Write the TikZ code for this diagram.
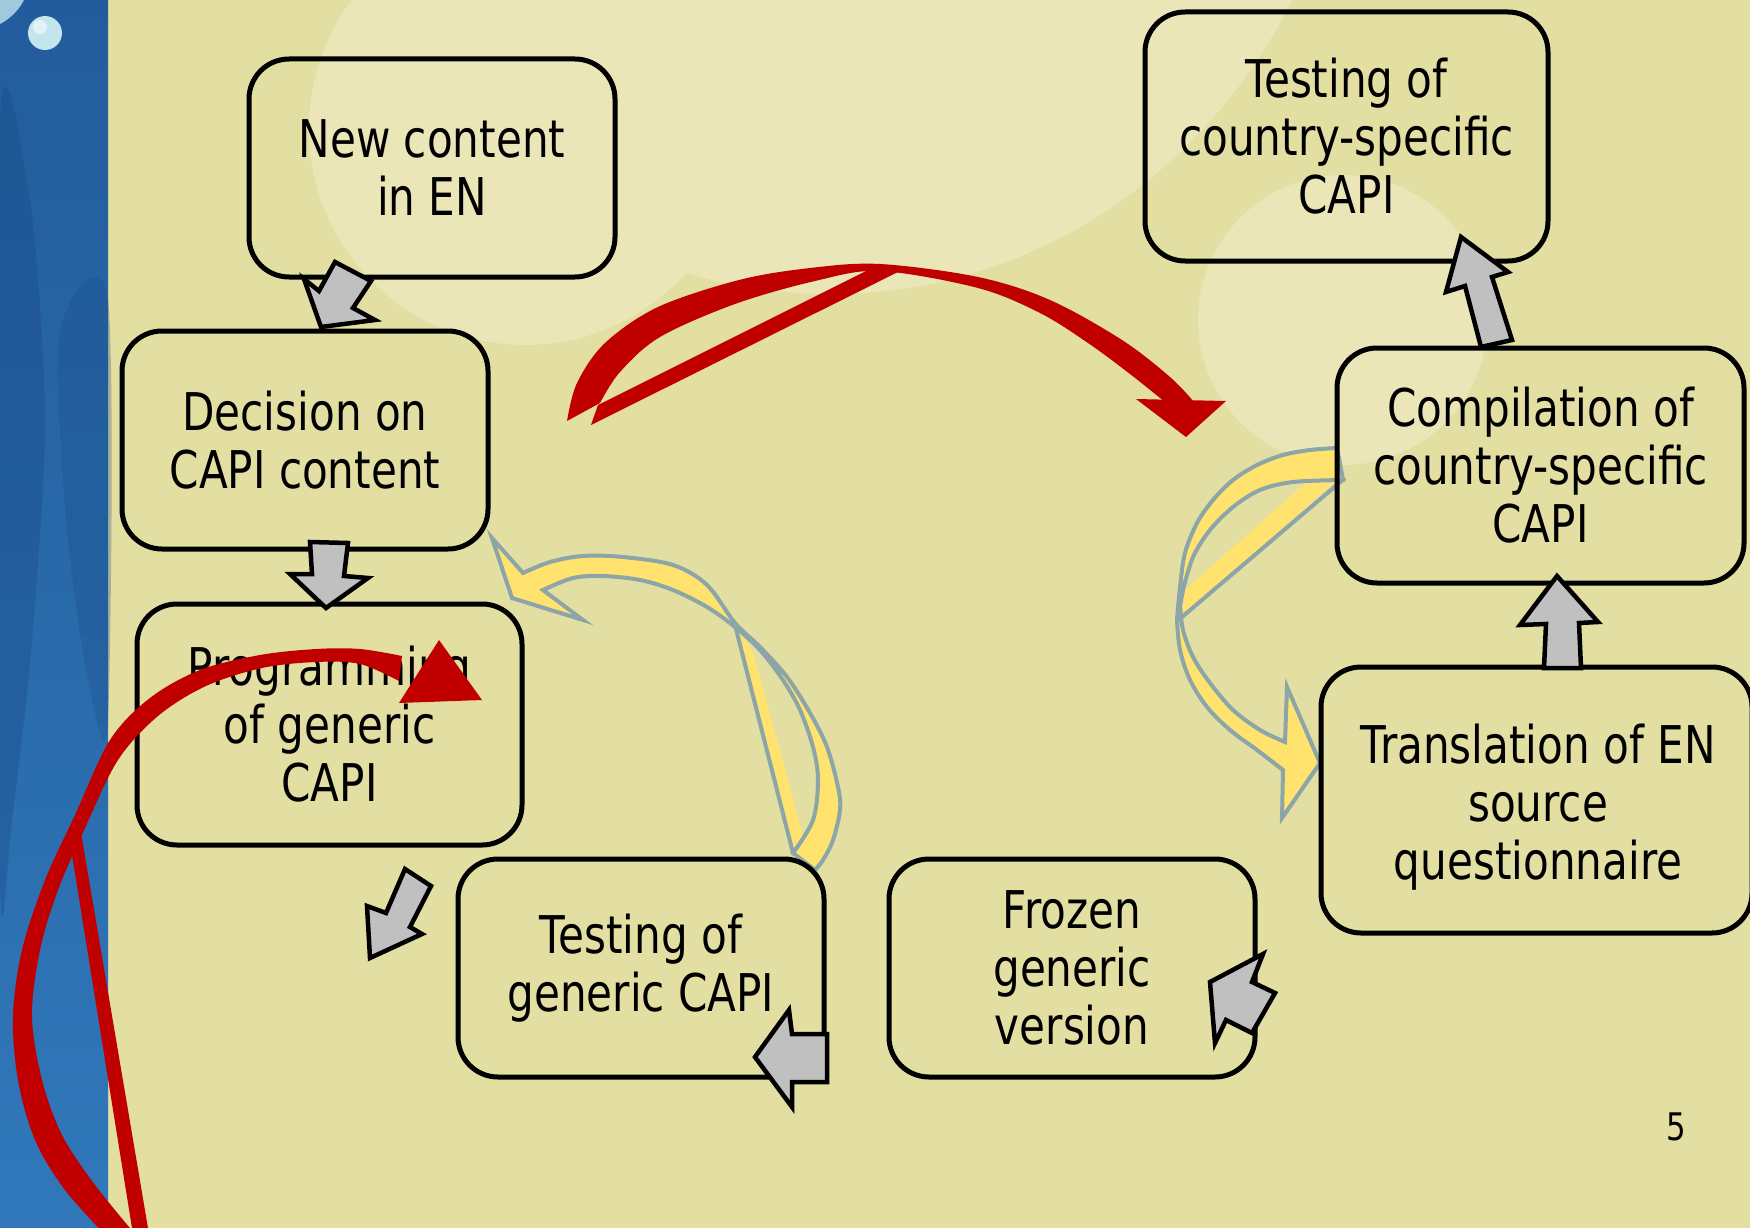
\documentclass[tikz,border=0pt]{standalone}
\usepackage{fontspec}
\setmainfont{DejaVu Sans}[FakeStretch=0.81]
\definecolor{bgc}{RGB}{227,222,161}
\definecolor{lightc}{RGB}{234,230,184}
\definecolor{redc}{RGB}{192,0,0}
\definecolor{yelc}{RGB}{255,227,110}
\definecolor{ystroke}{RGB}{139,165,168}
\definecolor{blkfill}{RGB}{192,192,192}
\definecolor{bluec}{RGB}{48,120,186}
\definecolor{bluetop}{RGB}{34,92,156}
\definecolor{bluedark}{RGB}{26,76,136}
\definecolor{bubblec}{RGB}{196,228,238}
\definecolor{bubble2}{RGB}{160,200,222}
\begin{document}
\begin{tikzpicture}[x=1pt,y=-1pt,
  box/.style={draw=black,line width=5pt,rounded corners=40pt,align=center,inner sep=0pt,font=\fontsize{52}{58}\selectfont},
  boxtext/.style={align=center,inner sep=0pt,font=\fontsize{52}{58}\selectfont},
  blk/.style={fill=blkfill,draw=black,line width=4.5pt,line join=miter},
  yel/.style={fill=yelc,draw=ystroke,line width=4pt,line join=miter},
  chord/.style={draw=ystroke,line width=4pt}]
\useasboundingbox (0,0) rectangle (1750,1228);
% background
\fill[bgc] (0,0) rectangle (1750,1228);
\fill[lightc] (525,129) circle [radius=216];
\fill[lightc] (830,-250) ellipse [x radius=520, y radius=544];
\fill[lightc] (1343,320) circle [radius=145];
% blue strip
\shade[top color=bluetop, bottom color=bluec] (0,0) rectangle (108,1228);
\fill[bluedark,opacity=0.4] plot[smooth cycle] coordinates {(0,120) (30,200) (45,420) (32,640) (12,820) (0,880)};
\fill[bluedark,opacity=0.3] plot[smooth cycle] coordinates {(60,330) (108,300) (108,720) (88,680) (66,520)};
\fill[bubble2] (-25,-25) circle [radius=55];
\fill[bubblec] (45,33) circle [radius=17];
\fill[white,opacity=0.55] (40,27) circle [radius=7];

% yellow arrow (left)
\fill[yelc] (735,625) -- (753,652) -- (812,868) -- (795,855) -- cycle;
\draw[chord] (735,625) -- (793,853);
\path[yel] (492,538) -- (523,573)
  -- plot[smooth,tension=0.55] coordinates {(523,573) (550,562) (583,556) (623,557) (673,565) (707,585) (735,623) (760,647) (787,677) (810,713) (827,747) (838,787) (840,810) (833,840) (823,860) (815,870)}
  -- plot[smooth,tension=0.55] coordinates {(793,853) (813,820) (818,780) (813,747) (800,710) (783,680) (760,650) (735,627) (707,607) (673,590) (640,580) (603,576) (573,578) (543,590)}
  -- (583,620) -- (512,598) -- cycle;

% yellow arrow (right)
\fill[yelc] (1337,455) -- (1337,480) -- (1182,617) -- (1185,590) -- cycle;
\draw[chord] (1345,478) -- (1182,617);
\path[yel] plot[smooth,tension=0.55] coordinates {(1337,448) (1310,450) (1283,455) (1257,465) (1233,480) (1213,500) (1197,523) (1185,553) (1180,587) (1177,620)}
  -- plot[smooth,tension=0.55] coordinates {(1183,590) (1193,557) (1210,530) (1233,507) (1260,490) (1293,482) (1343,480)} -- cycle;
\path[yel] plot[smooth,tension=0.55] coordinates {(1177,620) (1180,650) (1190,680) (1207,707) (1230,730) (1257,750) (1283,770)}
  -- (1282,818) -- (1320,763) -- (1287,687) -- (1285,742)
  -- plot[smooth,tension=0.55] coordinates {(1285,742) (1260,730) (1233,710) (1210,683) (1193,657) (1183,630) (1180,605)} -- cycle;

% boxes
\node[box,minimum width=366,minimum height=218] (nc) at (432,168) {New content\\in EN};
\node[box,minimum width=366,minimum height=218] (dec) at (305,440) {Decision on\\CAPI content};
\node[box,minimum width=385,minimum height=241] (prog) at (329.5,724.5) {Programming\\of generic\\CAPI};
\node[box,minimum width=366,minimum height=218] (tgen) at (641,968) {Testing of\\generic CAPI};
\node[box,minimum width=366,minimum height=218] (froz) at (1072,968) {Frozen\\generic\\version};
\node[box,minimum width=431,minimum height=266] (trans) at (1536.5,800) {};
\node[boxtext] (transtext) at (1538,807) {Translation of EN\\source\\questionnaire};
\node[box,minimum width=407,minimum height=235] (comp) at (1540.5,465.5) {Compilation of\\country-specific\\CAPI};
\node[box,minimum width=403,minimum height=249] (tcs) at (1346.5,136.5) {Testing of\\country-specific\\CAPI};

% grey block arrows
\path[blk] (335,262) -- (371,281) -- (353,308) -- (375,320) -- (321,327) -- (304,279) -- (319,291) -- cycle;
\path[blk] (310,542) -- (348,543) -- (344,576) -- (368,578) -- (326,608) -- (290,574) -- (312,574) -- cycle;
\path[blk] (405,869) -- (431,886) -- (410,927) -- (422,934) -- (370,958) -- (367,906) -- (386,913) -- cycle;
\path[blk] (827,1034) -- (827,1082) -- (792,1082) -- (792,1107) -- (755,1057) -- (789,1010) -- (792,1034) -- cycle;
\path[blk] (1275,993) -- (1252,1033) -- (1226,1020) -- (1215,1043) -- (1210,982) -- (1263,954) -- (1252,982) -- cycle;
\path[blk] (1544,668) -- (1581,668) -- (1579,623) -- (1598,622) -- (1557,576) -- (1520,625) -- (1546,624) -- cycle;
\path[blk] (1481,347) -- (1512,340) -- (1492,277) -- (1508,272) -- (1461,237) -- (1446,292) -- (1465,286) -- cycle;

% red arrow (top)
\fill[redc] plot[smooth,tension=0.55] coordinates {(567,421) (577,383) (605,343) (658,307) (739,280) (810,268) (880,264) (978,277) (1050,300) (1122,340) (1170,377) (1194,402)}
  -- plot[smooth,tension=0.55] coordinates {(1165,402) (1130,374) (1088,343) (1040,313) (978,288) (880,271) (815,281) (735,304) (660,337) (620,372) (600,403)} -- cycle;
\fill[redc] (598,405) -- (868,270) -- (900,271) -- (591,425) -- cycle;
\fill[redc] (1136,399) -- (1226,401) -- (1186,437) -- cycle;

% red arrow (left)
\fill[redc] plot[smooth,tension=0.55] coordinates {(402,656) (360,649) (316,649) (260,655) (200,670) (150,698) (110,740) (75,815) (45,880) (22,950) (13,1016) (18,1080) (35,1140) (65,1190) (110,1240)}
  -- plot[smooth,tension=0.55] coordinates {(140,1240) (95,1185) (62,1135) (42,1080) (32,1016) (40,950) (58,890) (85,828) (118,760) (158,716) (206,686) (262,668) (316,662) (360,664) (399,681)} -- cycle;
\fill[redc] (69,836) -- (78,815) -- (148,1228) -- (132,1228) -- cycle;
\fill[redc] (439,640) -- (482,700) -- (399,703) -- cycle;

% page number
\node[font=\fontsize{38}{42}\selectfont,inner sep=0pt] (pg) at (1676,1127) {5};
\end{tikzpicture}
\end{document}
